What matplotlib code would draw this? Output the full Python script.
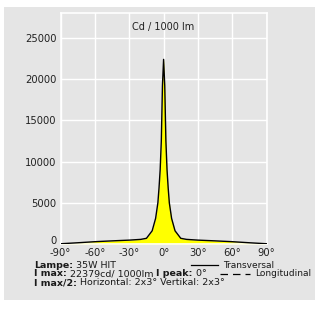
import matplotlib
matplotlib.use("Agg")
import matplotlib.pyplot as plt
import matplotlib.transforms as mtransforms
from matplotlib.patches import Rectangle
from matplotlib.lines import Line2D

# ---- data ----
angles = [-90, -75, -60, -45, -30, -20, -15, -10, -7, -5, -4, -3, -2, -1, 0,
          1, 2, 3, 4, 5, 7, 10, 15, 20, 30, 45, 60, 75, 90]
intensity = [30, 150, 280, 380, 470, 560, 690, 1600, 3100, 5000, 6800, 9000, 12500, 19200, 22379,
             19200, 12500, 9000, 6800, 5000, 3100, 1600, 690, 560, 470, 380, 280, 150, 30]
xticks = [-90, -60, -30, 0, 30, 60, 90]
xticklabels = ["-90°", "-60°", "-30°", "0°", "30°", "60°", "90°"]
yticks = [0, 5000, 10000, 15000, 20000, 25000]
unit_label = "Cd / 1000 lm"
info_lines = [
    [("Lampe:", True), (" 35W HIT", False)],
    [("I max:", True), (" 22379cd/ 1000lm ", False), ("I peak:", True), (" 0°", False)],
    [("I max/2:", True), (" Horizontal: 2x3° Vertikal: 2x3°", False)],
]
legend_labels = ["Transversal", "Longitudinal"]

W, H = 315, 311
BG = "#e5e5e5"
fig = plt.figure(figsize=(W / 100, H / 100), dpi=100)
fig.patch.set_facecolor("white")
fig.patches.append(Rectangle((4 / W, 1 - 300 / H), (W - 4) / W, (300 - 7) / H,
                             transform=fig.transFigure, facecolor=BG, edgecolor="none", zorder=-10))

ax = fig.add_axes([60.7 / W, 1 - 244 / H, (266.5 - 60.7) / W, (244 - 13) / H])
ax.set_facecolor(BG)
ax.fill_between(angles, intensity, 0, color="#ffff00", zorder=2, linewidth=0)
ax.plot(angles, intensity, color="black", lw=1.0, zorder=3)
ax.set_xlim(-90, 90)
ax.set_ylim(0, 28000)
ax.set_xticks(xticks)
ax.set_xticklabels(xticklabels)
ax.set_yticks(yticks)
ax.grid(True, color="white", lw=1.0, zorder=1)
ax.set_axisbelow(True)
for s in ax.spines.values():
    s.set_color("white")
    s.set_linewidth(1.2)
ax.tick_params(length=0, labelsize=7.2, colors="#222222", pad=3)
# lift the "0" label slightly as in the reference
zero_lbl = ax.get_yticklabels()[0]
zero_lbl.set_transform(zero_lbl.get_transform() +
                       mtransforms.ScaledTranslation(0, 4 / 100, fig.dpi_scale_trans))
ax.text(0, 26300, unit_label, ha="center", va="center", fontsize=7, color="#222222")

# ---- info text ----
fs = 6.8
ys = [265.5, 274, 282.5]
fig.canvas.draw()
r = fig.canvas.get_renderer()
for y, parts in zip(ys, info_lines):
    x = 34
    for txt, bold in parts:
        t = fig.text(x / W, 1 - y / H, txt, fontsize=fs, fontweight="bold" if bold else "normal",
                     ha="left", va="center", color="#1a1a1a")
        bb = t.get_window_extent(renderer=r)
        x += bb.width

fig.add_artist(Line2D([190.7 / W, 218.3 / W], [1 - 265 / H] * 2, color="black", lw=0.9,
                      transform=fig.transFigure))
fig.text(222.7 / W, 1 - 265.5 / H, legend_labels[0], fontsize=6.5, ha="left", va="center", color="#1a1a1a")
fig.add_artist(Line2D([220 / W, 250 / W], [1 - 273.5 / H] * 2, color="black", lw=0.9,
                      linestyle=(0, (6, 4)), transform=fig.transFigure))
fig.text(255 / W, 1 - 274 / H, legend_labels[1], fontsize=6.5, ha="left", va="center", color="#1a1a1a")

fig.savefig("out.png", dpi=100)
